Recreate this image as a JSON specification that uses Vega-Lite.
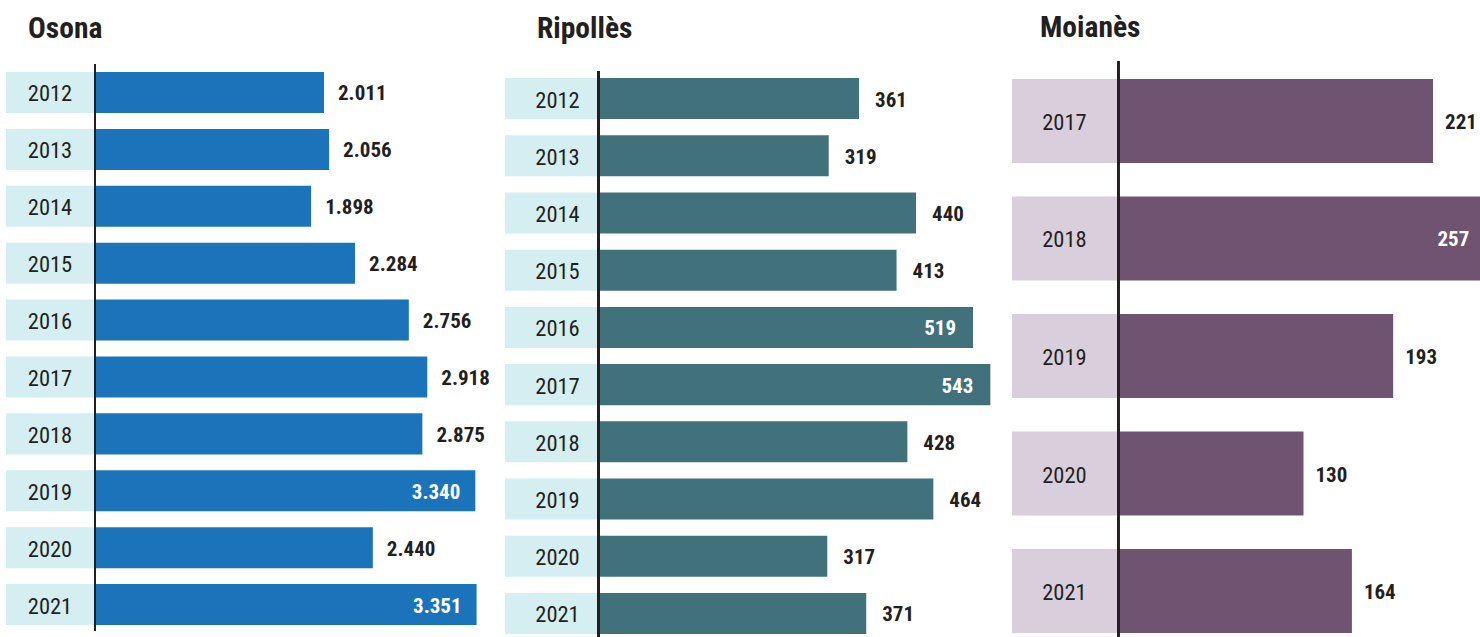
{
  "$schema": "https://vega.github.io/schema/vega-lite/v6.json",
  "padding": {"left": 6, "top": 12, "right": 0, "bottom": 0},
  "spacing": 0,
  "background": "white",
  "config": {
    "view": {"stroke": null},
    "locale": {"number": {"decimal": ",", "thousands": ".", "grouping": [3], "currency": ["", " €"]}},
    "font": "Liberation Sans Narrow, Roboto Condensed, Noto Sans Condensed, DejaVu Sans Condensed, sans-serif",
    "title": {"font": "Liberation Sans Narrow, Roboto Condensed, Noto Sans Condensed, DejaVu Sans Condensed, sans-serif", "fontSize": 29.5, "fontWeight": "bold", "color": "#231f20", "anchor": "start", "frame": "group", "offset": 17}
  },
  "datasets": {
    "osona": [
      {"any": "2012", "valor": 2011}, {"any": "2013", "valor": 2056}, {"any": "2014", "valor": 1898},
      {"any": "2015", "valor": 2284}, {"any": "2016", "valor": 2756}, {"any": "2017", "valor": 2918},
      {"any": "2018", "valor": 2875}, {"any": "2019", "valor": 3340}, {"any": "2020", "valor": 2440},
      {"any": "2021", "valor": 3351}
    ],
    "ripolles": [
      {"any": "2012", "valor": 361}, {"any": "2013", "valor": 319}, {"any": "2014", "valor": 440},
      {"any": "2015", "valor": 413}, {"any": "2016", "valor": 519}, {"any": "2017", "valor": 543},
      {"any": "2018", "valor": 428}, {"any": "2019", "valor": 464}, {"any": "2020", "valor": 317},
      {"any": "2021", "valor": 371}
    ],
    "moianes": [
      {"any": "2017", "valor": 221}, {"any": "2018", "valor": 257}, {"any": "2019", "valor": 193},
      {"any": "2020", "valor": 130}, {"any": "2021", "valor": 164}
    ]
  },
  "hconcat": [
    {
      "width": 499, "height": 570,
      "title": {"text": "Osona", "dx": 22},
      "data": {"name": "osona"},
      "layer": [
        {"mark": {"type": "bar", "color": "#d5eef2"},
         "encoding": {
           "y": {"field": "any", "type": "ordinal", "axis": null, "scale": {"paddingInner": 0.279, "paddingOuter": 0.1485, "align": 0.65}},
           "x": {"datum": -781.6, "type": "quantitative", "scale": {"domain": [-781.6, 3600.6], "nice": false, "zero": false}, "axis": null},
           "x2": {"datum": 0}}},
        {"mark": {"type": "bar", "color": "#1b74ba"},
         "encoding": {"y": {"field": "any", "type": "ordinal"}, "x": {"field": "valor", "type": "quantitative"}}},
        {"mark": {"type": "rule", "color": "#231f20", "strokeWidth": 2, "yOffset": 3},
         "encoding": {"x": {"datum": 0, "type": "quantitative"}}},
        {"mark": {"type": "text", "align": "center", "dx": -45, "dy": 2, "fontSize": 22.5, "color": "#231f20"},
         "encoding": {"y": {"field": "any", "type": "ordinal"}, "x": {"datum": 0, "type": "quantitative"}, "text": {"field": "any"}}},
        {"transform": [{"filter": "datum.valor <= 3000"}],
         "mark": {"type": "text", "align": "left", "dx": 14, "dy": 2, "fontSize": 21, "fontWeight": "bold", "color": "#231f20"},
         "encoding": {"y": {"field": "any", "type": "ordinal"}, "x": {"field": "valor", "type": "quantitative"}, "text": {"field": "valor", "type": "quantitative", "format": ",d"}}},
        {"transform": [{"filter": "datum.valor > 3000"}],
         "mark": {"type": "text", "align": "right", "dx": -15, "dy": 2, "fontSize": 21, "fontWeight": "bold", "color": "white"},
         "encoding": {"y": {"field": "any", "type": "ordinal"}, "x": {"field": "valor", "type": "quantitative"}, "text": {"field": "valor", "type": "quantitative", "format": ",d"}}}
      ]
    },
    {
      "width": 507, "height": 577,
      "title": {"text": "Ripollès", "dx": 32},
      "data": {"name": "ripolles"},
      "layer": [
        {"mark": {"type": "bar", "color": "#d5eef2"},
         "encoding": {
           "y": {"field": "any", "type": "ordinal", "axis": null, "scale": {"paddingInner": 0.283, "paddingOuter": 0.1836, "align": 0.81}},
           "x": {"datum": -129.6, "type": "quantitative", "scale": {"domain": [-129.6, 573.0], "nice": false, "zero": false}, "axis": null},
           "x2": {"datum": 0}}},
        {"mark": {"type": "bar", "color": "#41717a"},
         "encoding": {"y": {"field": "any", "type": "ordinal"}, "x": {"field": "valor", "type": "quantitative"}}},
        {"mark": {"type": "rule", "color": "#231f20", "strokeWidth": 2, "yOffset": 10},
         "encoding": {"x": {"datum": 0, "type": "quantitative"}}},
        {"mark": {"type": "text", "align": "center", "dx": -41, "dy": 2, "fontSize": 22.5, "color": "#231f20"},
         "encoding": {"y": {"field": "any", "type": "ordinal"}, "x": {"datum": 0, "type": "quantitative"}, "text": {"field": "any"}}},
        {"transform": [{"filter": "datum.valor <= 500"}],
         "mark": {"type": "text", "align": "left", "dx": 16, "dy": 2, "fontSize": 21, "fontWeight": "bold", "color": "#231f20"},
         "encoding": {"y": {"field": "any", "type": "ordinal"}, "x": {"field": "valor", "type": "quantitative"}, "text": {"field": "valor", "type": "quantitative", "format": ",d"}}},
        {"transform": [{"filter": "datum.valor > 500"}],
         "mark": {"type": "text", "align": "right", "dx": -17, "dy": 2, "fontSize": 21, "fontWeight": "bold", "color": "white"},
         "encoding": {"y": {"field": "any", "type": "ordinal"}, "x": {"field": "valor", "type": "quantitative"}, "text": {"field": "valor", "type": "quantitative", "format": ",d"}}}
      ]
    },
    {
      "width": 468, "height": 590,
      "title": {"text": "Moianès", "dx": 28},
      "data": {"name": "moianes"},
      "layer": [
        {"mark": {"type": "bar", "color": "#d9cfdc"},
         "encoding": {
           "y": {"field": "any", "type": "ordinal", "axis": null, "scale": {"paddingInner": 0.285, "paddingOuter": 0.153}},
           "x": {"datum": -74.8, "type": "quantitative", "scale": {"domain": [-74.8, 254.0], "nice": false, "zero": false}, "axis": null},
           "x2": {"datum": 0}}},
        {"mark": {"type": "bar", "color": "#6f5370"},
         "encoding": {"y": {"field": "any", "type": "ordinal"}, "x": {"field": "valor", "type": "quantitative"}}},
        {"mark": {"type": "rule", "color": "#231f20", "strokeWidth": 2},
         "encoding": {"x": {"datum": 0, "type": "quantitative"}}},
        {"mark": {"type": "text", "align": "center", "dx": -54, "dy": 2, "fontSize": 22.5, "color": "#231f20"},
         "encoding": {"y": {"field": "any", "type": "ordinal"}, "x": {"datum": 0, "type": "quantitative"}, "text": {"field": "any"}}},
        {"transform": [{"filter": "datum.valor <= 250"}],
         "mark": {"type": "text", "align": "left", "dx": 12, "dy": 2, "fontSize": 21, "fontWeight": "bold", "color": "#231f20"},
         "encoding": {"y": {"field": "any", "type": "ordinal"}, "x": {"field": "valor", "type": "quantitative"}, "text": {"field": "valor", "type": "quantitative", "format": ",d"}}},
        {"transform": [{"filter": "datum.valor > 250"}],
         "mark": {"type": "text", "align": "right", "dx": -15, "dy": 2, "fontSize": 21, "fontWeight": "bold", "color": "white"},
         "encoding": {"y": {"field": "any", "type": "ordinal"}, "x": {"field": "valor", "type": "quantitative"}, "text": {"field": "valor", "type": "quantitative", "format": ",d"}}}
      ]
    }
  ]
}
